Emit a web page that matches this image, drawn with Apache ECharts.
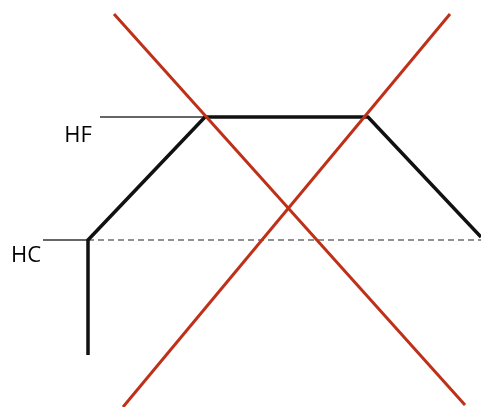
<!DOCTYPE html>
<html>
<head>
<meta charset="utf-8">
<script src="https://cdn.jsdelivr.net/npm/echarts@6/dist/echarts.min.js"></script>
<style>
html, body { margin: 0; padding: 0; background: #fff; }
#chart { width: 481px; height: 407px; }
</style>
</head>
<body>
<div id="chart"></div>
<script>
// levels
const levelHF = 290;
const levelHC = 167;

// black profile
const profile = [[88, 52], [88, 167], [205, 290], [368, 290], [481, 170]];
// two red crossing lines
const redLineA = [[114, 393], [465, 2]];
const redLineB = [[450, 393], [123, 0]];
// level marker lines
const hfTick = [[100, levelHF], [205, levelHF]];
const hcTick = [[43, levelHC], [88, levelHC]];
const hcDashed = [[88, levelHC], [481, levelHC]];
// labels
const labels = [
	{ name: 'HF', value: [78, 271] },
	{ name: 'HC', value: [26, 151] }
];

let myChart = echarts.init(document.getElementById('chart'));

function line (data, color, width, type) {
	return {
		type: 'line',
		data: data,
		symbol: 'none',
		silent: true,
		animation: false,
		lineStyle: { color: color, width: width, type: type || 'solid', cap: 'butt', join: 'miter' }
	};
}

myChart.setOption({
	animation: false,
	grid: { left: 0, right: 0, top: 0, bottom: 0 },
	xAxis: { type: 'value', min: 0, max: 481, show: false },
	yAxis: { type: 'value', min: 0, max: 407, show: false },
	series: [
		line(hcDashed, '#6e6e6e', 1.3, [6, 4]),
		line(hfTick, '#333', 1.5),
		line(hcTick, '#333', 1.5),
		line(profile, '#111', 3.5),
		line(redLineA, '#bf3018', 3),
		line(redLineB, '#bf3018', 3),
		{
			type: 'scatter',
			data: labels,
			symbolSize: 0,
			silent: true,
			itemStyle: { opacity: 1 },
			label: {
				show: true,
				position: 'inside',
				formatter: '{b}',
				fontFamily: 'Open Sans',
				fontSize: 22,
				color: '#000',
				opacity: 1,
				textBorderWidth: 0
			}
		}
	]
});
</script>
</body>
</html>
